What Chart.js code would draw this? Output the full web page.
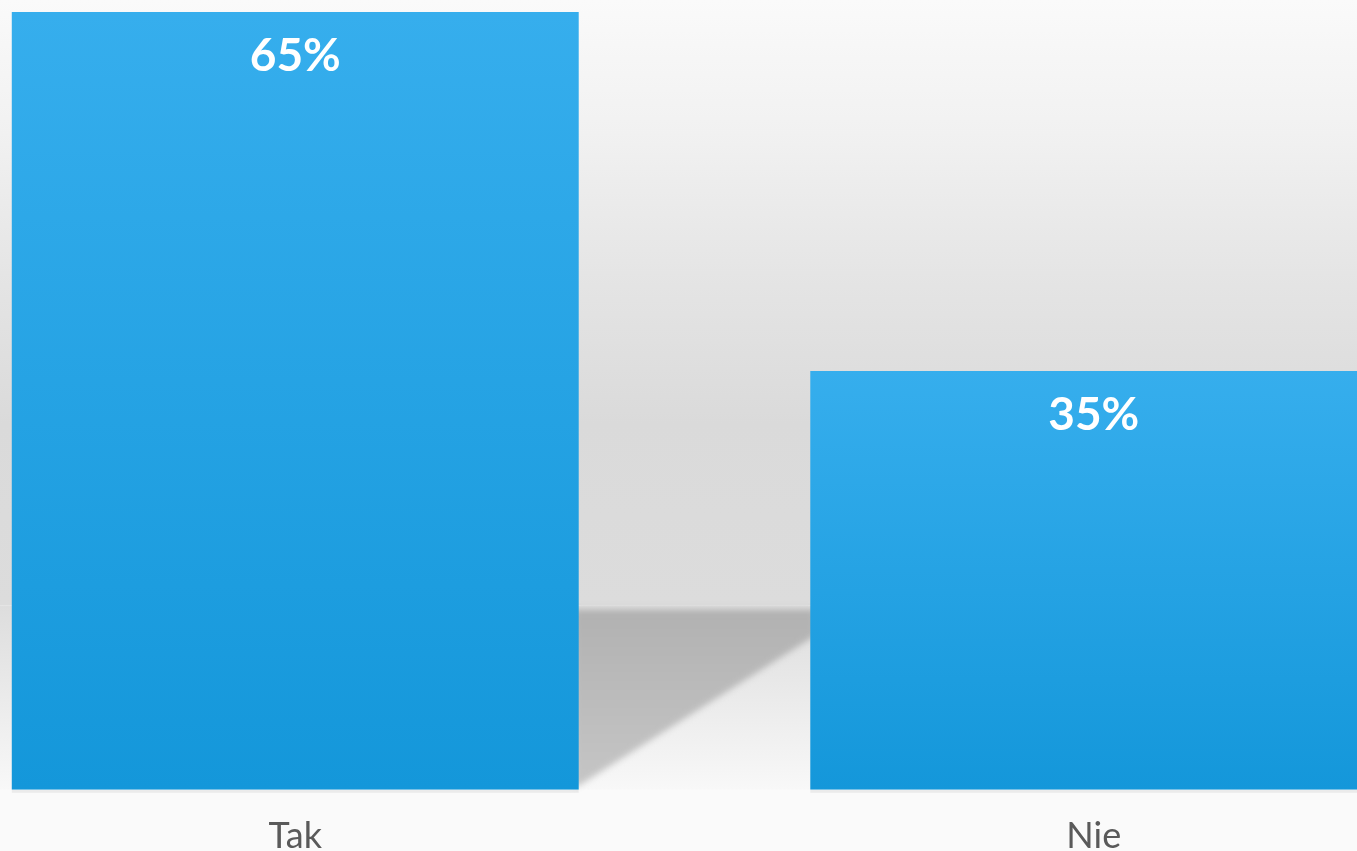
<!DOCTYPE html>
<html>
<head>
<meta charset="utf-8">
<script src="https://cdn.jsdelivr.net/npm/chart.js@4.4.0/dist/chart.umd.min.js"></script>
<style>
  html, body { margin: 0; padding: 0; overflow: hidden; background: #fafafa; }
  #wrap { position: absolute; left: -104px; top: 0; width: 1597px; height: 883px; }
</style>
</head>
<body>
<div id="wrap"><canvas id="bar-chart"></canvas></div>
<script>
const categories = ['Tak', 'Nie'];
const values = [65, 35];
const valueLabels = ['65%', '35%'];

// Wall, floor and the first bar's shadow, painted before everything else
const backdropPlugin = {
    id: 'backdrop',
    beforeDraw(chart) {
        const { ctx, chartArea: a, width, height } = chart;
        const bars = chart.getDatasetMeta(0).data;
        if (!bars.length) return;
        const floorTop = a.bottom - (a.bottom - a.top) * 0.237;
        ctx.save();
        // wall
        let g = ctx.createLinearGradient(0, 0, 0, floorTop);
        g.addColorStop(0, '#fafafa');
        g.addColorStop(0.22, '#f1f1f1');
        g.addColorStop(0.45, '#e5e5e5');
        g.addColorStop(0.7, '#dadada');
        g.addColorStop(1, '#dcdcdc');
        ctx.fillStyle = g;
        ctx.fillRect(0, 0, width, floorTop);
        // floor
        g = ctx.createLinearGradient(0, floorTop, 0, a.bottom);
        g.addColorStop(0, '#dddddd');
        g.addColorStop(1, '#f8f8f8');
        ctx.fillStyle = g;
        ctx.fillRect(0, floorTop, width, a.bottom - floorTop);
        // below floor
        ctx.fillStyle = '#fafafa';
        ctx.fillRect(0, a.bottom, width, height - a.bottom);
        // shadow of first bar
        const b1 = bars[0], b2 = bars[1];
        const x1 = b1.x + b1.width / 2;
        const x2 = b2.x - b2.width / 2;
        ctx.filter = 'blur(3px)';
        g = ctx.createLinearGradient(0, floorTop, 0, a.bottom);
        g.addColorStop(0, '#b1b1b1');
        g.addColorStop(1, '#c6c6c6');
        ctx.fillStyle = g;
        ctx.beginPath();
        ctx.moveTo(x1 - 5, floorTop + 4);
        ctx.lineTo(x2 + 5, floorTop + 4);
        ctx.lineTo(x2 + 5, floorTop + 30);
        ctx.lineTo(x1, a.bottom - 4);
        ctx.lineTo(x1 - 5, a.bottom - 4);
        ctx.closePath();
        ctx.fill();
        ctx.filter = 'none';
        // faint line under bars
        ctx.fillStyle = 'rgba(0,0,0,0.06)';
        bars.forEach(b => ctx.fillRect(b.x - b.width / 2, a.bottom, b.width, 3));
        ctx.restore();
    }
};

// Percentage labels inside the bars
const valueLabelPlugin = {
    id: 'valueLabels',
    afterDatasetsDraw(chart) {
        const ctx = chart.ctx;
        ctx.save();
        ctx.fillStyle = '#ffffff';
        ctx.font = 'bold 46px Lato';
        ctx.textAlign = 'center';
        ctx.textBaseline = 'middle';
        chart.getDatasetMeta(0).data.forEach((bar, i) => {
            ctx.fillText(valueLabels[i], bar.x, bar.y + 44);
        });
        ctx.restore();
    }
};

const ctx = document.getElementById('bar-chart').getContext('2d');
new Chart(ctx, {
    type: 'bar',
    data: {
        labels: categories,
        datasets: [{
            data: values,
            backgroundColor: function(c) {
                const chart = c.chart;
                const a = chart.chartArea;
                if (!a) return '#2aa3e6';
                const top = chart.scales.y.getPixelForValue(c.raw);
                const g = chart.ctx.createLinearGradient(0, top, 0, a.bottom);
                g.addColorStop(0, '#36aeed');
                g.addColorStop(1, '#1497da');
                return g;
            },
            borderWidth: 0,
            barPercentage: 0.71,
            categoryPercentage: 1
        }]
    },
    options: {
        responsive: true,
        maintainAspectRatio: false,
        animation: false,
        layout: { padding: { top: 12, left: 0, right: 0, bottom: 0 } },
        plugins: { legend: { display: false }, tooltip: { enabled: false } },
        scales: {
            x: {
                grid: { display: false, drawTicks: false },
                border: { display: false },
                ticks: { color: '#5a5a5a', padding: 25, font: { family: 'Lato', size: 36, lineHeight: 1.2 } }
            },
            y: { display: false, min: 0, max: 65 }
        }
    },
    plugins: [backdropPlugin, valueLabelPlugin]
});
</script>
</body>
</html>
